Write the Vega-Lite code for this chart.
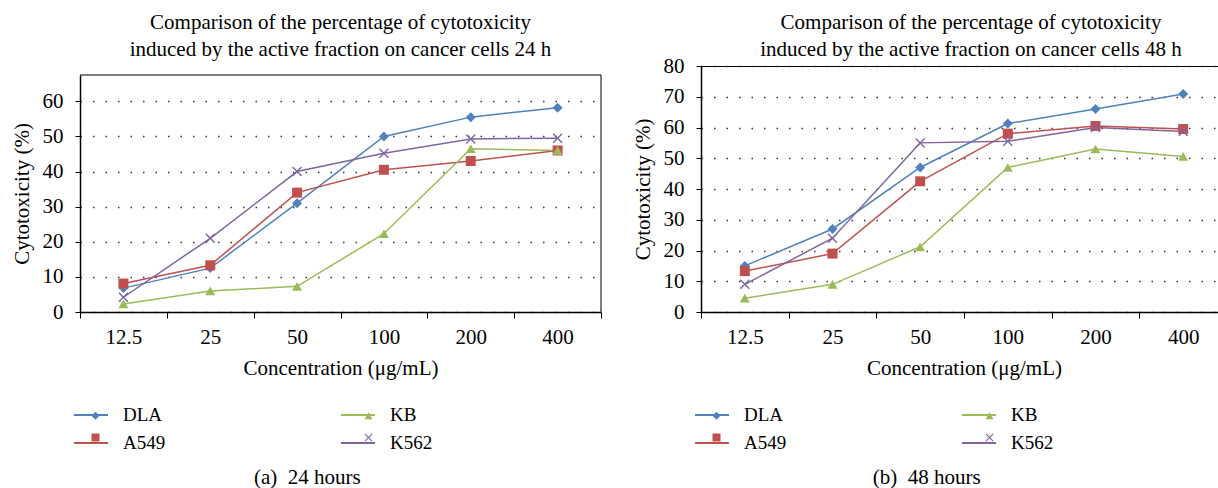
{
  "$schema": "https://vega.github.io/schema/vega-lite/v6.json",
  "padding": {"left": 11, "top": 11, "right": 0, "bottom": 0},
  "background": "white",
  "config": {
    "font": "Liberation Serif",
    "view": {"stroke": "#000", "strokeWidth": 1},
    "axis": {"labelFont": "Liberation Serif", "titleFont": "Liberation Serif", "labelColor": "#000", "titleColor": "#000", "titleFontWeight": "normal", "domainColor": "#000", "tickColor": "#000", "labelFontSize": 21, "titleFontSize": 21},
    "legend": {"labelFont": "Liberation Serif", "labelFontSize": 19, "labelColor": "#000"},
    "title": {"font": "Liberation Serif", "fontWeight": "normal", "color": "#000"},
    "concat": {"spacing": 29}
  },
  "datasets": {
    "d24": [
      {"conc": "12.5", "series": "DLA", "value": 6.8},
      {"conc": "25", "series": "DLA", "value": 12.5},
      {"conc": "50", "series": "DLA", "value": 31},
      {"conc": "100", "series": "DLA", "value": 50},
      {"conc": "200", "series": "DLA", "value": 55.5},
      {"conc": "400", "series": "DLA", "value": 58.2},
      {"conc": "12.5", "series": "A549", "value": 8.1},
      {"conc": "25", "series": "A549", "value": 13.3},
      {"conc": "50", "series": "A549", "value": 34},
      {"conc": "100", "series": "A549", "value": 40.5},
      {"conc": "200", "series": "A549", "value": 43},
      {"conc": "400", "series": "A549", "value": 46},
      {"conc": "12.5", "series": "KB", "value": 2.3},
      {"conc": "25", "series": "KB", "value": 6},
      {"conc": "50", "series": "KB", "value": 7.3},
      {"conc": "100", "series": "KB", "value": 22.3},
      {"conc": "200", "series": "KB", "value": 46.5},
      {"conc": "400", "series": "KB", "value": 46},
      {"conc": "12.5", "series": "K562", "value": 4.2},
      {"conc": "25", "series": "K562", "value": 21},
      {"conc": "50", "series": "K562", "value": 40},
      {"conc": "100", "series": "K562", "value": 45.2},
      {"conc": "200", "series": "K562", "value": 49.3},
      {"conc": "400", "series": "K562", "value": 49.5}
    ],
    "d48": [
      {"conc": "12.5", "series": "DLA", "value": 15},
      {"conc": "25", "series": "DLA", "value": 27},
      {"conc": "50", "series": "DLA", "value": 47},
      {"conc": "100", "series": "DLA", "value": 61.3},
      {"conc": "200", "series": "DLA", "value": 66},
      {"conc": "400", "series": "DLA", "value": 70.9},
      {"conc": "12.5", "series": "A549", "value": 13.3},
      {"conc": "25", "series": "A549", "value": 19},
      {"conc": "50", "series": "A549", "value": 42.5},
      {"conc": "100", "series": "A549", "value": 58},
      {"conc": "200", "series": "A549", "value": 60.5},
      {"conc": "400", "series": "A549", "value": 59.5},
      {"conc": "12.5", "series": "KB", "value": 4.5},
      {"conc": "25", "series": "KB", "value": 9},
      {"conc": "50", "series": "KB", "value": 21.2},
      {"conc": "100", "series": "KB", "value": 47},
      {"conc": "200", "series": "KB", "value": 53},
      {"conc": "400", "series": "KB", "value": 50.6},
      {"conc": "12.5", "series": "K562", "value": 9},
      {"conc": "25", "series": "K562", "value": 24},
      {"conc": "50", "series": "K562", "value": 55},
      {"conc": "100", "series": "K562", "value": 55.5},
      {"conc": "200", "series": "K562", "value": 60},
      {"conc": "400", "series": "K562", "value": 58.7}
    ]
  },
  "align": "none",
  "resolve": {"scale": {"y": "independent", "x": "independent", "color": "independent", "stroke": "independent", "shape": "independent"}, "legend": {"color": "independent", "stroke": "independent", "shape": "independent"}},
  "hconcat": [
    {
      "title": {"text": "(a)\u00a0 24 hours", "orient": "bottom", "fontSize": 21, "anchor": "middle", "dx": 1, "offset": 14},
      "vconcat": [
        {
          "width": 521,
          "height": 246,
          "view": {"stroke": null},
          "title": {"text": ["Comparison of the percentage of cytotoxicity", "induced by the active fraction on cancer cells 24 h"], "fontSize": 21, "lineHeight": 27, "anchor": "middle", "offset": 6},
          "layer": [
            {
              "data": {"name": "d24"},
              "mark": {"type": "line", "strokeWidth": 1.5},
              "encoding": {
                "x": {"field": "conc", "type": "ordinal", "sort": ["12.5", "25", "50", "100", "200", "400"], "scale": {"paddingInner": 0, "paddingOuter": 0},
                      "axis": {"title": "Concentration (μg/mL)", "labelAngle": 0, "tickBand": "extent", "tickSize": 6, "labelPadding": 8, "titlePadding": 10, "domainWidth": 1.5}},
                "y": {"field": "value", "type": "quantitative", "scale": {"domain": [0, 67.5], "nice": false, "range": [246, 9]},
                      "axis": {"title": "Cytotoxicity (%)", "values": [0, 10, 20, 30, 40, 50, 60], "tickSize": 5, "labelPadding": 12, "titlePadding": 10, "grid": true, "gridColor": "#333", "gridDash": [1.5, 11], "gridWidth": 1.5, "domainWidth": 1.5}},
                "stroke": {"field": "series", "type": "nominal",
                  "scale": {"domain": ["DLA", "A549", "KB", "K562", "_"], "range": ["#4F81BD", "#C0504D", "#9BBB59", "#8064A2", "#000000"]},
                  "legend": {"values": ["DLA", "A549", "KB", "K562"], "title": null, "orient": "none", "legendX": -7, "legendY": 331, "columns": 2, "columnPadding": 171, "rowPadding": -15, "padding": 0, "symbolType": "stroke", "symbolSize": 1156, "symbolStrokeWidth": 2, "labelOffset": 14, "zindex": 0}}
              }
            },
            {
              "data": {"name": "d24"},
              "mark": {"type": "point", "filled": true, "opacity": 1, "size": 100},
              "encoding": {
                "x": {"field": "conc", "type": "ordinal", "sort": ["12.5", "25", "50", "100", "200", "400"]},
                "y": {"field": "value", "type": "quantitative"},
                "color": {"field": "series", "type": "nominal",
                  "scale": {"domain": ["DLA", "A549", "KB", "K562"], "range": ["#4F81BD", "#C0504D", "#9BBB59", "#8064A2"]},
                  "legend": {"title": null, "orient": "none", "legendX": 6, "legendY": 340, "columns": 2, "columnPadding": 171, "rowPadding": 2, "padding": 0, "symbolSize": 64, "symbolStrokeWidth": 0, "labelOffset": 40, "labelColor": "transparent", "zindex": 1}},
                "shape": {"field": "series", "type": "nominal",
                  "scale": {"domain": ["DLA", "A549", "KB", "K562"], "range": ["diamond", "square", "triangle-up", "M-1,-0.8L-0.8,-1L0,-0.2L0.8,-1L1,-0.8L0.2,0L1,0.8L0.8,1L0,0.2L-0.8,1L-1,0.8L-0.2,0Z"]},
                  "legend": {"title": null, "orient": "none", "legendX": 6, "legendY": 340, "columns": 2, "columnPadding": 171, "rowPadding": 2, "padding": 0, "symbolSize": 64, "symbolStrokeWidth": 0, "labelOffset": 40, "labelColor": "transparent", "zindex": 1}}
              }
            },
            {
              "data": {"values": [{}]},
              "mark": {"type": "rule", "color": "#000", "strokeWidth": 1},
              "encoding": {"y": {"datum": 67.5, "type": "quantitative"}}
            },
            {
              "data": {"values": [{}]},
              "mark": {"type": "rule", "color": "#000", "strokeWidth": 1},
              "encoding": {
                "x": {"datum": "400", "type": "ordinal", "bandPosition": 1},
                "y": {"datum": 0, "type": "quantitative"},
                "y2": {"datum": 67.5}
              }
            }
          ]
        }
      ]
    },
    {
      "title": {"text": "(b)\u00a0 48 hours", "orient": "bottom", "fontSize": 21, "anchor": "middle", "dx": -3, "offset": 14},
      "vconcat": [
        {
          "width": 526,
          "height": 246,
          "title": {"text": ["Comparison of the percentage of cytotoxicity", "induced by the active fraction on cancer cells 48 h"], "fontSize": 21, "lineHeight": 27, "anchor": "middle", "offset": -5, "dx": 7},
          "data": {"name": "d48"},
          "encoding": {
            "x": {"field": "conc", "type": "ordinal", "sort": ["12.5", "25", "50", "100", "200", "400"], "scale": {"paddingInner": 0, "paddingOuter": 0},
                  "axis": {"title": "Concentration (μg/mL)", "labelAngle": 0, "tickBand": "extent", "tickSize": 6, "labelPadding": 8, "titlePadding": 10, "domainWidth": 1.5}},
            "y": {"field": "value", "type": "quantitative", "scale": {"domain": [0, 80], "nice": false},
                  "axis": {"title": "Cytotoxicity (%)", "values": [0, 10, 20, 30, 40, 50, 60, 70, 80], "tickSize": 5, "labelPadding": 12, "titlePadding": 10, "grid": true, "gridColor": "#333", "gridDash": [1.5, 11], "gridWidth": 1.5, "domainWidth": 1.5}}
          },
          "layer": [
            {
              "mark": {"type": "line", "strokeWidth": 1.5},
              "encoding": {
                "stroke": {"field": "series", "type": "nominal",
                  "scale": {"domain": ["DLA", "A549", "KB", "K562", "_"], "range": ["#4F81BD", "#C0504D", "#9BBB59", "#8064A2", "#000000"]},
                  "legend": {"values": ["DLA", "A549", "KB", "K562"], "title": null, "orient": "none", "legendX": -7, "legendY": 331, "columns": 2, "columnPadding": 171, "rowPadding": -15, "padding": 0, "symbolType": "stroke", "symbolSize": 1156, "symbolStrokeWidth": 2, "labelOffset": 14, "zindex": 0}}
              }
            },
            {
              "mark": {"type": "point", "filled": true, "opacity": 1, "size": 100},
              "encoding": {
                "color": {"field": "series", "type": "nominal",
                  "scale": {"domain": ["DLA", "A549", "KB", "K562"], "range": ["#4F81BD", "#C0504D", "#9BBB59", "#8064A2"]},
                  "legend": {"title": null, "orient": "none", "legendX": 6, "legendY": 340, "columns": 2, "columnPadding": 171, "rowPadding": 2, "padding": 0, "symbolSize": 64, "symbolStrokeWidth": 0, "labelOffset": 40, "labelColor": "transparent", "zindex": 1}},
                "shape": {"field": "series", "type": "nominal",
                  "scale": {"domain": ["DLA", "A549", "KB", "K562"], "range": ["diamond", "square", "triangle-up", "M-1,-0.8L-0.8,-1L0,-0.2L0.8,-1L1,-0.8L0.2,0L1,0.8L0.8,1L0,0.2L-0.8,1L-1,0.8L-0.2,0Z"]},
                  "legend": {"title": null, "orient": "none", "legendX": 6, "legendY": 340, "columns": 2, "columnPadding": 171, "rowPadding": 2, "padding": 0, "symbolSize": 64, "symbolStrokeWidth": 0, "labelOffset": 40, "labelColor": "transparent", "zindex": 1}}
              }
            }
          ]
        }
      ]
    }
  ]
}
